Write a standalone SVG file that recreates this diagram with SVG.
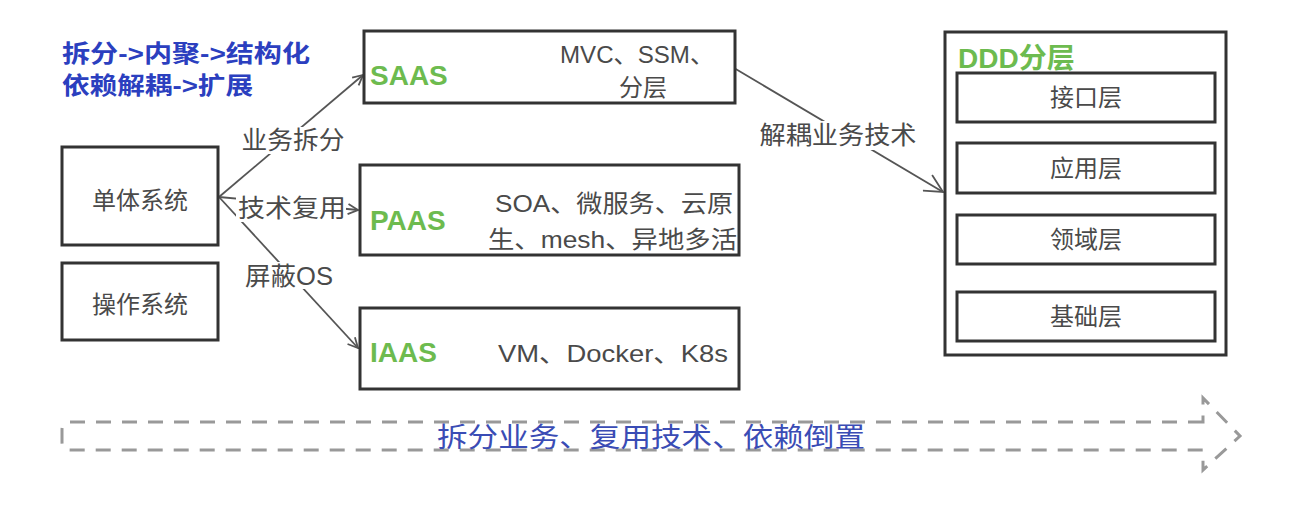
<svg xmlns="http://www.w3.org/2000/svg" width="1289" height="509" viewBox="0 0 1289 509">
<style>
.box{fill:#fff;stroke:#333;stroke-width:3}
.t{font-family:"Liberation Sans","Noto Sans CJK SC",sans-serif;fill:#4a4a4a;font-size:24px}
.g{font-family:"Liberation Sans","Noto Sans CJK SC",sans-serif;fill:#6dbb4f;font-size:28px;font-weight:bold}
.b{font-family:"Liberation Sans","Noto Sans CJK SC",sans-serif;fill:#2b3fbf;font-size:24px;font-weight:bold}
.lbl{font-family:"Liberation Sans","Noto Sans CJK SC",sans-serif;fill:#4a4a4a;font-size:25px}
.bg{fill:#fff;stroke:none}
.c{stroke:#555;stroke-width:1.8;fill:none}
</style>
<defs>
<marker id="ah" viewBox="0 0 12 12" refX="11" refY="6" markerWidth="12" markerHeight="12" markerUnits="userSpaceOnUse" orient="auto">
<path d="M1,1 L11,6 L1,11" fill="none" stroke="#555" stroke-width="1.8"/>
</marker>
<marker id="ah2" viewBox="0 0 20 20" refX="19" refY="10" markerWidth="20" markerHeight="20" markerUnits="userSpaceOnUse" orient="auto">
<path d="M1,1 L19,10 L1,19" fill="none" stroke="#555" stroke-width="1.8"/>
</marker>
</defs>

<g id="title">
<text class="b" x="62" y="62" textLength="248" lengthAdjust="spacingAndGlyphs">拆分-&gt;内聚-&gt;结构化</text>
<text class="b" x="62" y="94" textLength="191" lengthAdjust="spacingAndGlyphs">依赖解耦-&gt;扩展</text>
</g>

<g id="connectors">
<line class="c" x1="219" y1="197" x2="363" y2="75" marker-end="url(#ah)"/>
<line class="c" x1="219" y1="197" x2="358" y2="210" marker-end="url(#ah)"/>
<line class="c" x1="219" y1="197" x2="358" y2="348" marker-end="url(#ah)"/>
<line class="c" x1="734" y1="68" x2="943" y2="192" marker-end="url(#ah2)"/>
<rect class="bg" x="241" y="127" width="105" height="27"/>
<text class="lbl" x="293" y="149" text-anchor="middle" textLength="103" lengthAdjust="spacingAndGlyphs">业务拆分</text>
<rect class="bg" x="236" y="195" width="110" height="27"/>
<text class="lbl" x="292" y="217" text-anchor="middle" textLength="108" lengthAdjust="spacingAndGlyphs">技术复用</text>
<rect class="bg" x="243" y="262" width="92" height="27"/>
<text class="lbl" x="289" y="285" text-anchor="middle" textLength="88" lengthAdjust="spacingAndGlyphs">屏蔽OS</text>
<rect class="bg" x="758" y="121" width="161" height="29"/>
<text class="lbl" x="838" y="144" text-anchor="middle" textLength="157" lengthAdjust="spacingAndGlyphs">解耦业务技术</text>
</g>

<g id="monolith">
<rect class="box" x="62" y="147" width="156" height="98"/>
<text class="t" x="140" y="209" text-anchor="middle" font-size="26">单体系统</text>
</g>
<g id="os">
<rect class="box" x="62" y="263" width="156" height="77"/>
<text class="t" x="140" y="313" text-anchor="middle" font-size="26">操作系统</text>
</g>

<g id="saas">
<rect class="box" x="364" y="31" width="371" height="72"/>
<text class="g" x="370" y="85">SAAS</text>
<text class="t" x="560" y="63" textLength="154" lengthAdjust="spacingAndGlyphs">MVC、SSM、</text>
<text class="t" x="643" y="96" text-anchor="middle">分层</text>
</g>

<g id="paas">
<rect class="box" x="360" y="165" width="379" height="90"/>
<text class="g" x="370" y="230">PAAS</text>
<text class="t" x="495" y="212" textLength="238" lengthAdjust="spacingAndGlyphs">SOA、微服务、云原</text>
<text class="t" x="488" y="248" textLength="249" lengthAdjust="spacingAndGlyphs">生、mesh、异地多活</text>
</g>

<g id="iaas">
<rect class="box" x="360" y="308" width="379" height="81"/>
<text class="g" x="370" y="362">IAAS</text>
<text class="t" x="498" y="362" textLength="230" lengthAdjust="spacingAndGlyphs">VM、Docker、K8s</text>
</g>

<g id="ddd">
<rect class="box" x="945" y="32" width="281" height="323"/>
<text class="g" x="958" y="68" font-size="26">DDD分层</text>
</g>
<g id="interface-layer">
<rect class="box" x="957" y="73" width="258" height="49"/>
<text class="t" x="1086" y="106" text-anchor="middle">接口层</text>
</g>
<g id="application-layer">
<rect class="box" x="957" y="143" width="258" height="50"/>
<text class="t" x="1086" y="177" text-anchor="middle">应用层</text>
</g>
<g id="domain-layer">
<rect class="box" x="957" y="215" width="258" height="49"/>
<text class="t" x="1086" y="248" text-anchor="middle">领域层</text>
</g>
<g id="infra-layer">
<rect class="box" x="957" y="292" width="258" height="49"/>
<text class="t" x="1086" y="325" text-anchor="middle">基础层</text>
</g>

<g id="flow-arrow">
<path d="M1203,422 L70,422 Q62,422 62,430 L62,442 Q62,450 70,450 L1203,450 L1203,470 L1240,436 L1203,398 Z" fill="none" stroke="#999" stroke-width="3" stroke-dasharray="15 11"/>
<text x="651" y="447" text-anchor="middle" font-family="'Liberation Sans','Noto Sans CJK SC',sans-serif" font-size="27" fill="#3a4cb5" textLength="428" lengthAdjust="spacingAndGlyphs">拆分业务、复用技术、依赖倒置</text>
</g>
</svg>
